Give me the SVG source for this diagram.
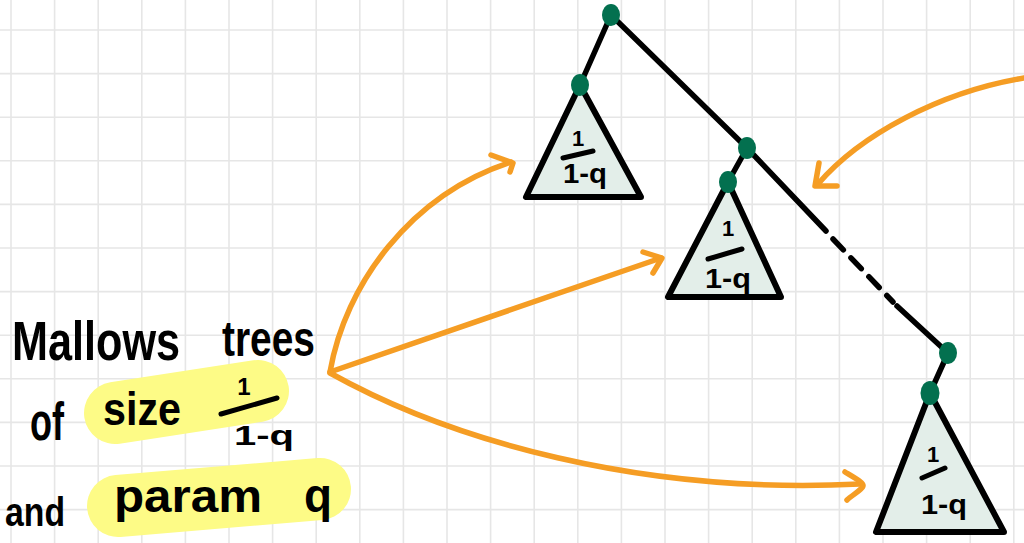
<svg xmlns="http://www.w3.org/2000/svg" width="1024" height="543" viewBox="0 0 1024 543">
<style>
.grid{stroke:#e6e6e6;stroke-width:1.6;fill:none}
.hl{stroke:#fdfb86;stroke-linecap:round;fill:none}
.hand{font-family:"Liberation Sans",Arial,sans-serif;font-weight:bold;fill:#000}
.frac{font-family:"Liberation Sans",Arial,sans-serif;font-weight:bold;fill:#000;text-anchor:middle}
.bar{stroke:#000;stroke-width:5;stroke-linecap:round;fill:none}
.edge{stroke:#000;stroke-width:5.5;stroke-linecap:round;fill:none}
.tri{fill:#e3eee9;stroke:#000;stroke-width:6;stroke-linejoin:round}
.node{fill:#03704f}
.arr{stroke:#f59d24;stroke-width:5.5;stroke-linecap:round;stroke-linejoin:round;fill:none}
</style>
<rect width="1024" height="543" fill="#ffffff"/>
<path class="grid" d="M11 0V543M54.6 0V543M98.2 0V543M141.8 0V543M185.4 0V543M229 0V543M272.6 0V543M316.2 0V543M359.8 0V543M403.4 0V543M447 0V543M490.6 0V543M534.2 0V543M577.8 0V543M621.4 0V543M665 0V543M708.6 0V543M752.2 0V543M795.8 0V543M839.4 0V543M883 0V543M926.6 0V543M970.2 0V543M1013.8 0V543M0 30H1024M0 73.6H1024M0 117.2H1024M0 160.8H1024M0 204.4H1024M0 248H1024M0 291.6H1024M0 335.2H1024M0 378.8H1024M0 422.4H1024M0 466H1024M0 509.6H1024"/>
<g id="label">
<path class="hl" stroke-width="62" d="M115 413L258 391"/>
<path class="hl" stroke-width="62" d="M118 506L320 489"/>
<text class="hand" x="12" y="360" font-size="56" textLength="168" lengthAdjust="spacingAndGlyphs">Mallows</text>
<text class="hand" x="222" y="356" font-size="50" textLength="93" lengthAdjust="spacingAndGlyphs">trees</text>
<text class="hand" x="30" y="440" font-size="54" textLength="34" lengthAdjust="spacingAndGlyphs">of</text>
<text class="hand" x="103" y="425" font-size="46" textLength="78" lengthAdjust="spacingAndGlyphs">size</text>
<text class="frac" x="244" y="395" font-size="24">1</text>
<path class="bar" d="M221 414L277 398"/>
<text class="frac" x="264" y="445" font-size="28" textLength="60" lengthAdjust="spacingAndGlyphs">1-q</text>
<text class="hand" x="5" y="526" font-size="40" textLength="60" lengthAdjust="spacingAndGlyphs">and</text>
<text class="hand" x="114" y="512" font-size="46" textLength="148" lengthAdjust="spacingAndGlyphs">param</text>
<text class="hand" x="304" y="512" font-size="48" textLength="28" lengthAdjust="spacingAndGlyphs">q</text>
</g>
<g id="connectors">
<path class="edge" d="M611 15L580 85"/>
<path class="edge" d="M611 15L747 148"/>
<path class="edge" d="M747 148L728 182"/>
<path class="edge" d="M747 148L826 231"/>
<path class="edge" stroke-dasharray="15 11" d="M833 239L893 302"/>
<path class="edge" d="M897 306L948 353"/>
<path class="edge" d="M948 353L930 393"/>
<path class="arr" d="M330 372C345 285 410 195 511 162"/>
<path class="arr" d="M491 155L513 163L510 172"/>
<path class="arr" d="M330 372L661 258"/>
<path class="arr" d="M643 252L662 258L653 273"/>
<path class="arr" d="M330 373C450 440 640 495 860 484"/>
<path class="arr" d="M845 472C855 478 864 483 863 486C862 490 852 495 847 500"/>
<path class="arr" d="M1024 78C940 92 860 135 818 184"/>
<path class="arr" d="M819 163L815 186L837 186"/>
</g>
<g id="root"><ellipse class="node" cx="611" cy="15" rx="9" ry="11"/></g>
<g id="subtree-left">
<path class="tri" d="M580 85L526 197H641Z"/>
<text class="frac" x="578" y="146" font-size="22">1</text>
<path class="bar" d="M563 158L593 151"/>
<text class="frac" x="585" y="183" font-size="27" textLength="44" lengthAdjust="spacingAndGlyphs">1-q</text>
<ellipse class="node" cx="580" cy="85" rx="9" ry="11"/>
</g>
<g id="spine-node-1"><ellipse class="node" cx="747" cy="148" rx="9" ry="11"/></g>
<g id="subtree-middle">
<path class="tri" d="M728 182L668 297H781Z"/>
<text class="frac" x="728" y="236" font-size="22">1</text>
<path class="bar" d="M708 259L742 249"/>
<text class="frac" x="728" y="288" font-size="27" textLength="46" lengthAdjust="spacingAndGlyphs">1-q</text>
<ellipse class="node" cx="728" cy="182" rx="9" ry="11"/>
</g>
<g id="spine-node-2"><ellipse class="node" cx="948" cy="353" rx="9" ry="11"/></g>
<g id="subtree-right">
<path class="tri" d="M930 393L876 532H1004Z"/>
<text class="frac" x="933" y="462" font-size="22">1</text>
<path class="bar" d="M922 478L945 468"/>
<text class="frac" x="944" y="514" font-size="27" textLength="46" lengthAdjust="spacingAndGlyphs">1-q</text>
<ellipse class="node" cx="930" cy="393" rx="9.5" ry="12"/>
</g>
</svg>
